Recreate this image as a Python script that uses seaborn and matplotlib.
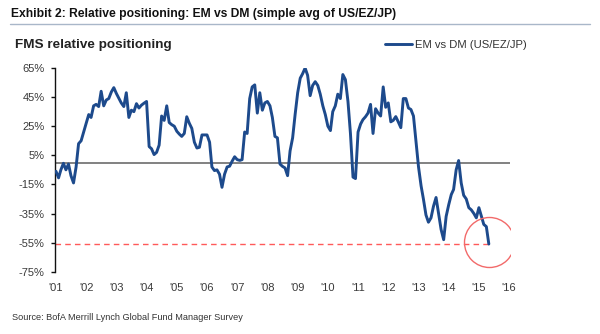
import matplotlib
matplotlib.use('Agg')
import matplotlib.pyplot as plt
import seaborn as sns
import pandas as pd

# ---- data ----
em_vs_dm = [-6, -10.5, -5, -0.5, -5, -1, -9, -14, -3, 13,
            15, 21, 27, 33, 31, 39, 40, 38.5, 49, 39,
            43, 44, 48.5, 51.5, 47.5, 44, 41, 38.5, 48, 31,
            36, 35, 40.5, 37.5, 39.5, 40.8, 42, 11, 9.5, 5.5,
            7, 12, 32, 29, 39, 27.5, 26, 25, 21.5, 19.5,
            18, 20, 31.5, 27, 23.5, 14, 10, 10.5, 19, 19,
            19, 14, -3, -5.5, -5, -8, -17, -8, -3, -2.5,
            1, 4, 2, 1.5, 2, 21, 20, 44, 52, 53.4,
            34, 48, 36, 41, 42, 39, 31, 18, 17, -1,
            -2.6, -3.7, -9, 8, 17, 33, 48, 58, 61, 65,
            60, 46, 53, 55.6, 53, 47, 39, 33, 25, 22,
            35, 39, 47, 44, 60.5, 57, 42, 20, -10, -11,
            21, 26.5, 29.5, 31.5, 34, 40, 20, 37, 34, 32,
            52, 38, 41, 28, 29, 31.6, 28, 24, 44, 44,
            37.5, 36.5, 32, 15, -3, -16, -25, -36, -41, -38,
            -30, -24, -35, -46, -53, -37, -29, -22, -18.5, -5,
            1.4, -14, -22.5, -25, -31, -32.5, -35, -38, -31, -37,
            -42.5, -44, -56]
start_month = '2001-01-01'
threshold = -56
y_ticks = [65, 45, 25, 5, -15, -35, -55, -75]
y_tick_labels = ['65%', '45%', '25%', '5%', '-15%', '-35%', '-55%', '-75%']
x_tick_years = list(range(2001, 2017))
x_tick_labels = ["'01", "'02", "'03", "'04", "'05", "'06", "'07", "'08",
                 "'09", "'10", "'11", "'12", "'13", "'14", "'15", "'16"]
series_label = 'EM vs DM (US/EZ/JP)'
title = 'Exhibit 2: Relative positioning: EM vs DM (simple avg of US/EZ/JP)'
subtitle = 'FMS relative positioning'
source = 'Source: BofA Merrill Lynch Global Fund Manager Survey'

sns.set_theme(style='white')
plt.rcParams['font.family'] = ['Liberation Sans', 'DejaVu Sans']
FONT = ['Liberation Sans', 'DejaVu Sans']

W, H = 600, 334
fig = plt.figure(figsize=(W / 100, H / 100), dpi=100)
fig.patch.set_facecolor('white')

ax = fig.add_axes([55 / W, 1 - 271.7 / H, (510 - 55) / W, (271.7 - 68) / H])
ax.set_facecolor('white')

dates = pd.date_range(start_month, periods=len(em_vs_dm), freq='MS')
df = pd.DataFrame({'date': dates, 'value': em_vs_dm})

x_left = pd.Timestamp('2000-12-20')
x_right = pd.Timestamp('2016-01-12')

ax.axhline(0, color='#5f5f5f', lw=1.1, zorder=1)
ax.hlines(threshold, x_left, dates[-1], colors='#ff5a5a', lw=1.0,
          linestyles=(0, (4, 3)), zorder=2)
sns.lineplot(data=df, x='date', y='value', ax=ax, color='#1d4a8c', lw=2.1,
             label=series_label, legend=False, zorder=3)
ax.plot([dates[-1]], [em_vs_dm[-1] + 1.5], marker='o', ms=36, mfc='none',
        mec='#f26a6a', mew=1.0, zorder=4)

ax.set_xlim(x_left, x_right)
ax.set_ylim(-75, 65)
ax.set_yticks(y_ticks)
ax.set_yticklabels(y_tick_labels)
ax.set_xticks([pd.Timestamp(f'{y}-01-01') for y in x_tick_years])
ax.set_xticklabels(x_tick_labels)
ax.set_xlabel('')
ax.set_ylabel('')

for s in ['top', 'right', 'bottom']:
    ax.spines[s].set_visible(False)
ax.spines['left'].set_color('#111111')
ax.spines['left'].set_linewidth(1.0)
ax.tick_params(axis='y', which='major', left=True, length=3, width=1,
               color='#111111', direction='out', pad=4.5,
               labelsize=8, labelcolor='#3a3a3a')
ax.tick_params(axis='x', which='major', bottom=False, length=0, pad=8,
               labelsize=8, labelcolor='#3a3a3a')
ax.grid(False)

# header
fig.text(11 / W, 1 - 14.5 / H, title, fontsize=8.7, fontweight='bold',
         family=FONT, color='#111111', va='center', ha='left')
fig.add_artist(plt.Line2D([10 / W, 590 / W], [1 - 24 / H, 1 - 24 / H],
                          color='#a9b7c9', lw=1.0))
fig.text(15 / W, 1 - 45 / H, subtitle, fontsize=9.7, fontweight='bold',
         family=FONT, color='#222222', va='center', ha='left')

leg = ax.legend(loc='center left', bbox_to_anchor=(385 / W, 1 - 45 / H),
                bbox_transform=fig.transFigure, frameon=False,
                borderaxespad=0, borderpad=0, handlelength=2.4,
                handletextpad=0.3, prop={'family': FONT, 'size': 8.1})
for t in leg.get_texts():
    t.set_color('#333333')

fig.text(12 / W, 1 - 317 / H, source, fontsize=6.6, family=FONT,
         color='#333333', va='center', ha='left')

fig.savefig('out.png', dpi=100, facecolor='white')
